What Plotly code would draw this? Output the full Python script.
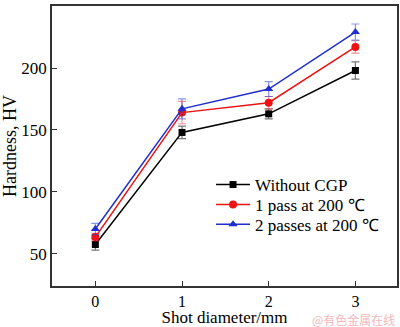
import plotly.graph_objects as go

shot_diameter = [0, 1, 2, 3]

without_cgp = [57.5, 148, 163, 198]
without_cgp_err = [4.5, 5, 4, 7]

one_pass = [63.5, 164, 172, 217]
one_pass_err = [3, 9, 5, 5]

two_passes = [70, 167, 183, 229]
two_passes_err = [4.5, 8, 6, 6.5]

series = [
    ("Without CGP", without_cgp, without_cgp_err, "#000000", "rgba(60,60,60,0.7)", "square", 7),
    ("1 pass at 200 \u2103", one_pass, one_pass_err, "#ee1111", "rgba(230,60,60,0.55)", "circle", 8),
    ("2 passes at 200 \u2103", two_passes, two_passes_err, "#1f2fcc", "rgba(40,60,210,0.55)", "triangle-up", 8),
]

serif = "Liberation Serif"
legend_ids = ["legend", "legend2", "legend3"]
legend_tops = [0.425, 0.354, 0.283]

fig = go.Figure()
for (name, vals, errs, color, ecolor, symbol, msize), lid in zip(series, legend_ids):
    fig.add_trace(go.Scatter(
        x=shot_diameter, y=vals, name=name, mode="lines+markers",
        legend=lid,
        line=dict(color=color, width=1.5),
        marker=dict(symbol=symbol, size=msize, color=color),
        error_y=dict(type="data", array=errs, visible=True,
                     color=ecolor, thickness=1.2, width=4),
    ))

axis_common = dict(
    showline=True, linecolor="#333333", linewidth=1.5, mirror=True,
    ticks="inside", ticklen=5, tickwidth=1.2, tickcolor="#333333",
    showgrid=False, zeroline=False, automargin=False,
)

legend_style = dict(
    x=0.461, xanchor="left", yanchor="top",
    bgcolor="rgba(0,0,0,0)", borderwidth=0,
    font=dict(family=serif, size=17, color="#000000"),
    itemwidth=34,
)

fig.update_layout(
    width=400, height=327,
    margin=dict(l=52, r=3, t=6, b=41),
    paper_bgcolor="white", plot_bgcolor="white",
    showlegend=True,
    legend=dict(y=legend_tops[0], **legend_style),
    legend2=dict(y=legend_tops[1], **legend_style),
    legend3=dict(y=legend_tops[2], **legend_style),
    xaxis=dict(
        range=[-0.5, 3.48], tickvals=shot_diameter,
        tickfont=dict(family=serif, size=16, color="#000000"),
        title=dict(text="Shot diameter/mm", standoff=6,
                   font=dict(family=serif, size=17, color="#000000")),
        **axis_common,
    ),
    yaxis=dict(
        range=[24, 250.05], tickvals=[50, 100, 150, 200, 250],
        tickfont=dict(family=serif, size=17, color="#000000"),
        title=dict(text="Hardness, HV", standoff=4,
                   font=dict(family=serif, size=18, color="#000000")),
        **axis_common,
    ),
)

fig.add_annotation(
    text="@有色金属在线", xref="paper", yref="paper",
    x=1.0, y=-0.12, xanchor="right", yanchor="middle", showarrow=False,
    font=dict(family="Noto Sans CJK SC", size=12, color="#f2b8bc"),
)

fig.write_html("out.html")
